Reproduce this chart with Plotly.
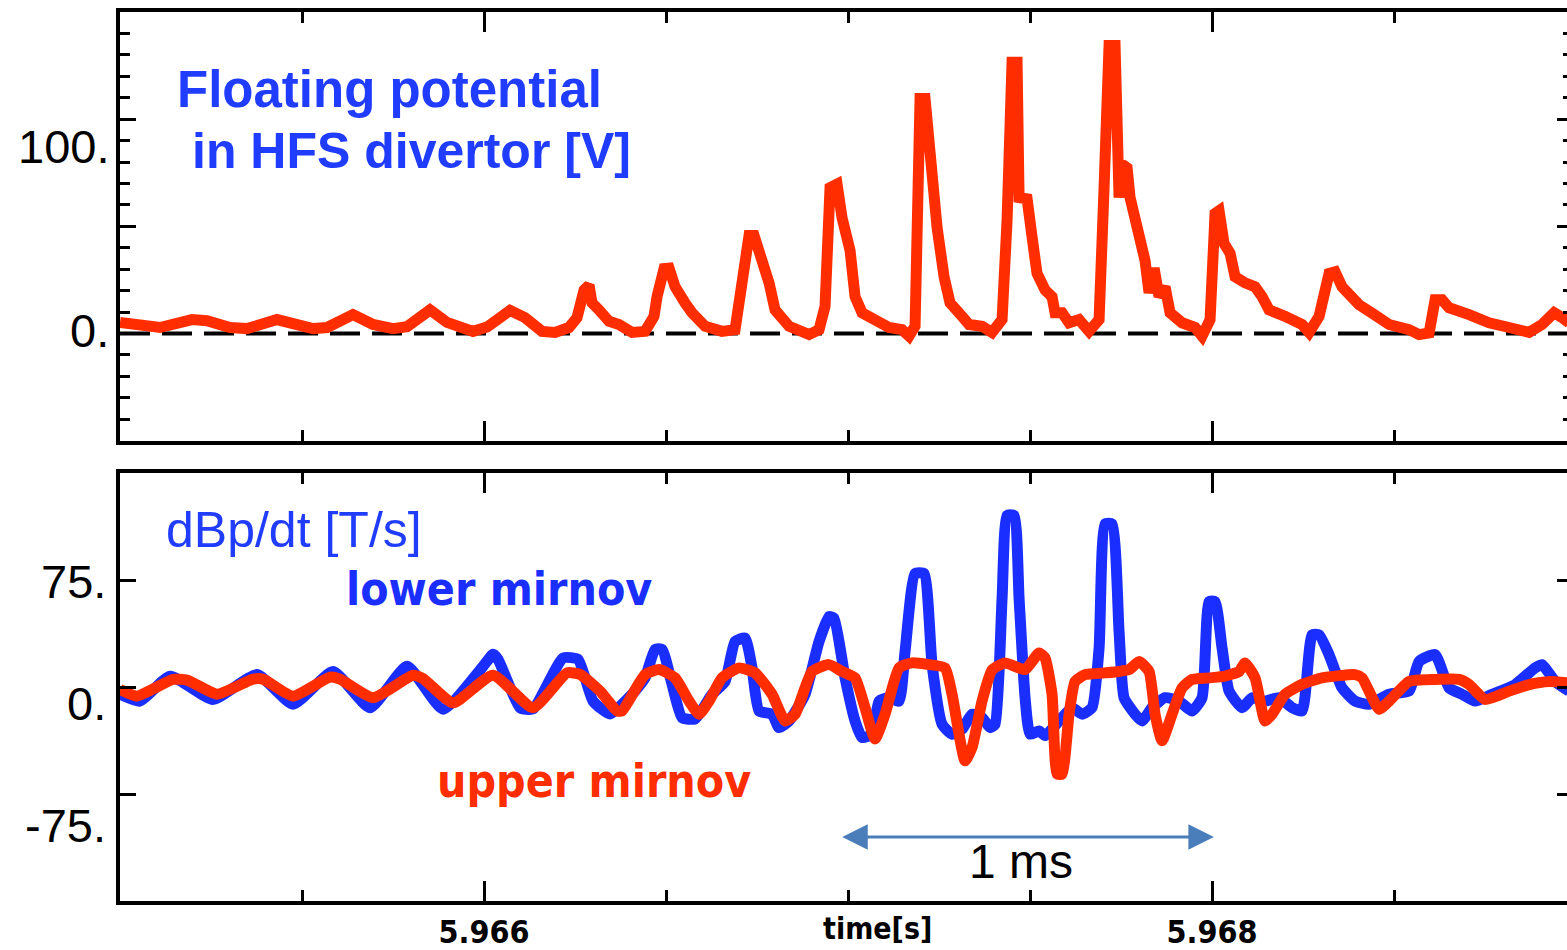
import plotly.graph_objects as go

# ---------------- data (time in ms after T0) -------------
T0 = 5.965  # s

FP_T_MS = [0, 0.1099, 0.1978, 0.2390, 0.3022, 0.3489, 0.4313, 0.4670, 0.5302, 0.5687,
           0.6401, 0.6951, 0.7500, 0.7885, 0.8516, 0.8984, 0.9698, 1.0082, 1.0714, 1.1126,
           1.1593, 1.1951, 1.2335, 1.2555, 1.2747, 1.2885, 1.2967, 1.3159, 1.3434, 1.3709,
           1.4066, 1.4423, 1.4670, 1.4753, 1.4945, 1.5082, 1.5247, 1.5522, 1.5714, 1.6071,
           1.6538, 1.6896, 1.7088, 1.7280, 1.7418, 1.7555, 1.7830, 1.7995, 1.8379, 1.8929,
           1.9203, 1.9368, 1.9505, 1.9698, 1.9835, 2.0055, 2.0192, 2.0385, 2.0742, 2.1126,
           2.1484, 2.1676, 2.1841, 2.1978, 2.2115, 2.2308, 2.2445, 2.2637, 2.2802, 2.3132,
           2.3324, 2.3681, 2.3956, 2.4231, 2.4368, 2.4505, 2.4643, 2.4698, 2.4918, 2.5055,
           2.5192, 2.5412, 2.5604, 2.5687, 2.5879, 2.6071, 2.6346, 2.6621, 2.6896, 2.7033,
           2.7170, 2.7335, 2.7445, 2.7527, 2.7665, 2.7747, 2.7940, 2.8159, 2.8269, 2.8407,
           2.8544, 2.8709, 2.8846, 2.9176, 2.9533, 2.9725, 2.9945, 3.0082, 3.0192, 3.0330,
           3.0495, 3.0632, 3.0907, 3.1181, 3.1374, 3.1566, 3.2005, 3.2473, 3.2665, 3.2940,
           3.3214, 3.3379, 3.3571, 3.4038, 3.4396, 3.4863, 3.5412, 3.5687, 3.5962, 3.6126,
           3.6319, 3.6511, 3.7060, 3.7610, 3.8159, 3.8709, 3.9066, 3.9396, 3.9615, 3.9808]
FP_V = [5.2, 2.8, 6.5, 6.0, 2.8, 2.3, 6.5, 5.2, 2.3, 2.8,
        8.8, 4.2, 2.3, 3.2, 11.0, 5.2, 1.0, 3.0, 10.8, 7.4,
        1.0, 0.5, 2.8, 7.4, 20.3, 22.6, 14.3, 11.0, 5.7, 4.2,
        0.5, 1.0, 8.0, 17.2, 30.3, 30.5, 21.8, 14.3, 9.7, 3.4,
        1.0, 1.8, 20.3, 45.7, 45.7, 38.8, 23.6, 11.0, 3.4, -0.5,
        1.8, 12.6, 68.0, 69.7, 54.0, 38.8, 17.2, 9.7, 6.5, 2.8,
        1.8, -1.2, 3.4, 109.6, 109.6, 68.0, 49.6, 26.5, 14.3, 8.0,
        4.2, 3.4, 0.5, 6.5, 52.7, 126.6, 126.6, 63.4, 62.8, 45.0,
        28.0, 20.3, 17.2, 9.7, 9.7, 5.0, 6.5, 1.0, 6.5, 68.0,
        134.4, 134.4, 63.4, 79.0, 77.3, 63.4, 48.0, 34.0, 19.0, 30.5,
        17.2, 21.8, 9.7, 5.0, 2.8, -1.2, 6.5, 56.0, 57.3, 42.0,
        37.4, 26.5, 23.6, 21.8, 17.2, 11.0, 8.0, 4.2, 0.5, 8.0,
        28.0, 28.8, 21.8, 13.4, 9.5, 4.2, 1.8, -0.5, 0.3, 15.7,
        15.7, 12.0, 8.8, 5.0, 2.8, 0.5, 4.2, 9.7, 7.4, 5.0]

LO_T_MS = [0, 0.0549, 0.1374, 0.2555, 0.3764, 0.4753, 0.5852, 0.6868, 0.7885, 0.8874,
           0.9973, 1.0247, 1.0385, 1.0989, 1.1346, 1.2170, 1.2582, 1.2995, 1.3462, 1.4066,
           1.4423, 1.4698, 1.4890, 1.5165, 1.5440, 1.5797, 1.6264, 1.6621, 1.6896, 1.7170,
           1.7363, 1.7555, 1.7912, 1.8104, 1.8379, 1.8819, 1.9203, 1.9478, 1.9615, 1.9918,
           2.0192, 2.0385, 2.0659, 2.0852, 2.1126, 2.1401, 2.1566, 2.1841, 2.2088, 2.2308,
           2.2582, 2.2857, 2.3132, 2.3407, 2.3681, 2.3901, 2.4038, 2.4231, 2.4368, 2.4560,
           2.4698, 2.4863, 2.5000, 2.5247, 2.5412, 2.5797, 2.6154, 2.6429, 2.6703, 2.6896,
           2.7060, 2.7253, 2.7445, 2.7582, 2.7885, 2.8077, 2.8352, 2.8709, 2.9093, 2.9451,
           2.9725, 2.9918, 3.0082, 3.0275, 3.0467, 3.0824, 3.1099, 3.1456, 3.1841, 3.2198,
           3.2473, 3.2747, 3.2940, 3.3214, 3.3571, 3.3929, 3.4313, 3.4863, 3.5412, 3.5687,
           3.6126, 3.6511, 3.6868, 3.7225, 3.7692, 3.8324, 3.8874, 3.9066, 3.9423, 3.9808]
LO_V = [-5, -9.8, 7.7, -8.6, 8.8, -12, 11, -14.4, 14.6, -15.5,
        14.6, 23, 19.5, -14.4, -15.3, 20.4, 19.5, -9.8, -18.8, -5,
        6.5, 26.5, 26.5, 2, -21.4, -22.3, -5, 4, 32, 34.4,
        13.5, -16.7, -19, -28.4, -23.7, -5, 32, 49.5, 48.3, 6.5,
        -23.7, -35.3, -33, -9.8, -7.4, -9.8, 25, 79.6, 79.6, 15.8,
        -26, -33, -29.5, -19, -21.4, -28.4, -26, 62.2, 120.4, 120.4,
        62.2, -7.4, -33, -30.7, -34, -23.7, -14.4, -19, -14.4, 27.4,
        114.5, 114.5, 39, -7.4, -19, -23.7, -14.4, -7.4, -9.8, -16.7,
        -7.4, 60, 60, 27.4, -2.8, -14.4, -7.4, -9.8, -7.4, -14.4,
        -16.7, 36.7, 36.7, 22.8, -0.5, -9.8, -12, -5, -2.8, 18,
        22.8, -0.5, -5, -9.8, -5, 1.8, 13.5, 15.8, 4, -2.8]

UP_T_MS = [0, 0.0467, 0.1456, 0.1841, 0.2665, 0.3654, 0.3929, 0.4753, 0.5769, 0.6044,
           0.6951, 0.8049, 0.8324, 0.9148, 1.0247, 1.1346, 1.2280, 1.2637, 1.3187, 1.3654,
           1.3791, 1.4423, 1.4808, 1.5247, 1.5632, 1.5907, 1.6181, 1.6538, 1.7005, 1.7445,
           1.7912, 1.8269, 1.8544, 1.9011, 1.9478, 1.9835, 2.0192, 2.0467, 2.0742, 2.1016,
           2.1401, 2.1758, 2.2225, 2.2665, 2.2857, 2.3214, 2.3407, 2.3681, 2.3956, 2.4313,
           2.4863, 2.5247, 2.5412, 2.5604, 2.5742, 2.5879, 2.6071, 2.6236, 2.6511, 2.7060,
           2.7445, 2.7720, 2.7995, 2.8269, 2.8434, 2.8626, 2.8901, 2.9176, 2.9451, 2.9918,
           3.0357, 3.0742, 3.0907, 3.1181, 3.1456, 3.1648, 3.2005, 3.2473, 3.3022, 3.3929,
           3.4121, 3.4588, 3.4863, 3.5412, 3.6126, 3.6786, 3.7060, 3.7500, 3.8159, 3.8709,
           3.9258, 3.9808]
UP_V = [-1.6, -6.3, 5.4, 4.9, -4.9, 5.6, 5.6, -6.3, 7, 5.6,
        -7.4, 8.4, 6, -11, 8.4, -14.4, 10, 9, -2.8, -16.7,
        -16.7, 8.8, 12.3, 6.5, -9.8, -19, -9.8, 6.5, 13.5, 10,
        -5, -23.7, -19, 11, 15.8, 11, 6.5, -14.4, -36.4, -19,
        13.5, 17, 15.8, 13.5, -5, -51.6, -42.3, -9.8, 12, 17,
        12.3, 24, 20.4, -5, -61, -61, -19, 4, 8.8, 10,
        11, 12.3, 18, 11, -19, -37.6, -19, -0.5, 5.4, 6.5,
        7.7, 11, 17, 6.5, -23.7, -19, -5, 2, 6.5, 8.8,
        6.5, -15.5, -9.8, 4, 5.4, 5.4, 1.8, -8.6, -2.8, 1.8,
        4, 3]

X_RANGE = [5.965, 5.968975]
TOP_Y_RANGE = [-50, 150]
BOT_Y_RANGE = [-150, 150]
X_TICKS = [5.966, 5.968]
X_TICK_TEXT = ["5.966", "5.968"]
X_TITLE = "time[s]"
X_TITLE_POS = 5.967082
TOP_Y_LABELS = ["100.", "0.", "-50."]
TOP_Y_LABEL_POS = [87.1, 1.3, -54.7]
BOT_Y_LABELS = ["75.", "0.", "-75."]
BOT_Y_LABEL_POS = [73.9, -11.6, -97.2]
SCALE_BAR = [5.96698, 5.968005]   # the "1 ms" arrow
SCALE_BAR_Y = -105.1

RED = "#ff2d00"
BLUE = "#1a2eff"
TXT_BLUE = "#1f3cff"
ARROW = "#4a7ebb"
NARROW = "DejaVu Sans Condensed, Liberation Sans Narrow, sans-serif"
ARIAL = "Liberation Sans, Arial, sans-serif"
LW = 11


def to_s(ms):
    return [T0 + m * 1e-3 for m in ms]


fig = go.Figure()
fig.add_trace(go.Scatter(x=to_s(FP_T_MS), y=FP_V, mode="lines",
                         line=dict(color=RED, width=LW), xaxis="x2", yaxis="y2"))
fig.add_trace(go.Scatter(x=to_s(LO_T_MS), y=LO_V, mode="lines",
                         line=dict(color=BLUE, width=LW, shape="spline", smoothing=0.5),
                         xaxis="x", yaxis="y"))
fig.add_trace(go.Scatter(x=to_s(UP_T_MS), y=UP_V, mode="lines",
                         line=dict(color=RED, width=LW, shape="spline", smoothing=0.5),
                         xaxis="x", yaxis="y"))
# empty helper traces so that the tick-only frame axes (top / right) are drawn
for xa, ya in [("x3", "y"), ("x4", "y2"), ("x2", "y3"), ("x", "y4")]:
    fig.add_trace(go.Scatter(x=[None], y=[None], mode="lines", xaxis=xa, yaxis=ya,
                             hoverinfo="skip", showlegend=False))

xminor = dict(ticks="inside", dtick=0.0005, tick0=5.966, ticklen=11,
              tickwidth=3, tickcolor="black")
xcommon = dict(range=X_RANGE, ticks="inside", tickwidth=3, tickcolor="black",
               ticklen=20, tickmode="array", tickvals=X_TICKS, minor=xminor,
               showgrid=False, zeroline=False, automargin=False)
yframe = dict(showline=True, linewidth=4, linecolor="black", ticks="inside",
              ticklen=16, tickwidth=3, tickcolor="black", tick0=0,
              showticklabels=False, showgrid=False, zeroline=False, automargin=False)
yright = dict(showline=False, ticks="inside", ticklen=10, tickwidth=3,
              tickcolor="black", tick0=0, side="right",
              showticklabels=False, showgrid=False, zeroline=False, automargin=False)

fig.update_layout(
    width=1567, height=950,
    margin=dict(l=120, r=0, t=12, b=49),
    paper_bgcolor="white", plot_bgcolor="white",
    showlegend=False,
    xaxis=dict(**xcommon, anchor="y", showline=True, linewidth=4, linecolor="black",
               mirror=True, ticktext=X_TICK_TEXT, showticklabels=True,
               tickfont=dict(family=NARROW, size=32, color="black", weight="bold")),
    xaxis2=dict(**xcommon, anchor="y2", showline=True, linewidth=4, linecolor="black",
                mirror=True, showticklabels=False),
    xaxis3=dict(**xcommon, overlaying="x", anchor="y", side="top",
                showline=False, showticklabels=False),
    xaxis4=dict(**xcommon, overlaying="x2", anchor="y2", side="top",
                showline=False, showticklabels=False),
    yaxis=dict(**yframe, domain=[0, 0.4811], range=BOT_Y_RANGE, anchor="x", dtick=75),
    yaxis2=dict(**yframe, domain=[0.5178, 1], range=TOP_Y_RANGE, anchor="x2", dtick=50,
                minor=dict(ticks="inside", dtick=10, ticklen=10, tickwidth=3,
                           tickcolor="black")),
    yaxis3=dict(**yright, range=TOP_Y_RANGE, overlaying="y2", anchor="x2", dtick=50,
                minor=dict(ticks="inside", dtick=10, ticklen=4, tickwidth=3,
                           tickcolor="black")),
    yaxis4=dict(**yright, range=BOT_Y_RANGE, overlaying="y", anchor="x", dtick=75),
)

# dashed zero line in the top panel
fig.add_shape(type="line", xref="x2", yref="y2", x0=X_RANGE[0], x1=X_RANGE[1],
              y0=0, y1=0, layer="below",
              line=dict(color="black", width=4, dash="30px,12px"))

ann = []
for txt, pos in zip(TOP_Y_LABELS, TOP_Y_LABEL_POS):
    ann.append(dict(text=txt, xref="paper", x=0, xanchor="right", xshift=-9,
                    yref="y2", y=pos, yanchor="middle", showarrow=False,
                    font=dict(family=ARIAL, size=47, color="black")))
for txt, pos in zip(BOT_Y_LABELS, BOT_Y_LABEL_POS):
    ann.append(dict(text=txt, xref="paper", x=0, xanchor="right", xshift=-12,
                    yref="y", y=pos, yanchor="middle", showarrow=False,
                    font=dict(family=ARIAL, size=47, color="black")))

ann += [
    dict(text=X_TITLE, xref="x", x=X_TITLE_POS, xanchor="center",
         yref="paper", y=0, yanchor="top", yshift=-8, showarrow=False,
         font=dict(family=NARROW, size=30, color="black", weight="bold")),
    dict(text="<b>Floating potential</b>", xref="paper", x=0.0380, xanchor="left",
         yref="y2", y=113.7, yanchor="middle", showarrow=False,
         font=dict(family=ARIAL, size=51, color=TXT_BLUE)),
    dict(text="<b>in HFS divertor [V]</b>", xref="paper", x=0.0484, xanchor="left",
         yref="y2", y=85.3, yanchor="middle", showarrow=False,
         font=dict(family=ARIAL, size=50, color=TXT_BLUE)),
    dict(text="dBp/dt [T/s]", xref="paper", x=0.0304, xanchor="left",
         yref="y", y=110, yanchor="middle", showarrow=False,
         font=dict(family=ARIAL, size=50, color=TXT_BLUE)),
    dict(text="<b>lower mirnov</b>", xref="paper", x=0.1548, xanchor="left",
         yref="y", y=68.7, yanchor="middle", showarrow=False,
         font=dict(family=NARROW, size=46, color=BLUE)),
    dict(text="<b>upper mirnov</b>", xref="paper", x=0.2177, xanchor="left",
         yref="y", y=-65.9, yanchor="middle", showarrow=False,
         font=dict(family=NARROW, size=46, color=RED)),
    dict(text="1 ms", xref="paper", x=0.6224, xanchor="center",
         yref="y", y=-122.2, yanchor="middle", showarrow=False,
         font=dict(family=ARIAL, size=48, color="black")),
    dict(text="", xref="x", yref="y", axref="x", ayref="y",
         x=SCALE_BAR[1], y=SCALE_BAR_Y, ax=SCALE_BAR[0], ay=SCALE_BAR_Y,
         showarrow=True, arrowhead=2, arrowside="end+start", arrowsize=1.7,
         arrowwidth=3, arrowcolor=ARROW),
]
fig.update_layout(annotations=ann)

fig.write_html("out.html")
